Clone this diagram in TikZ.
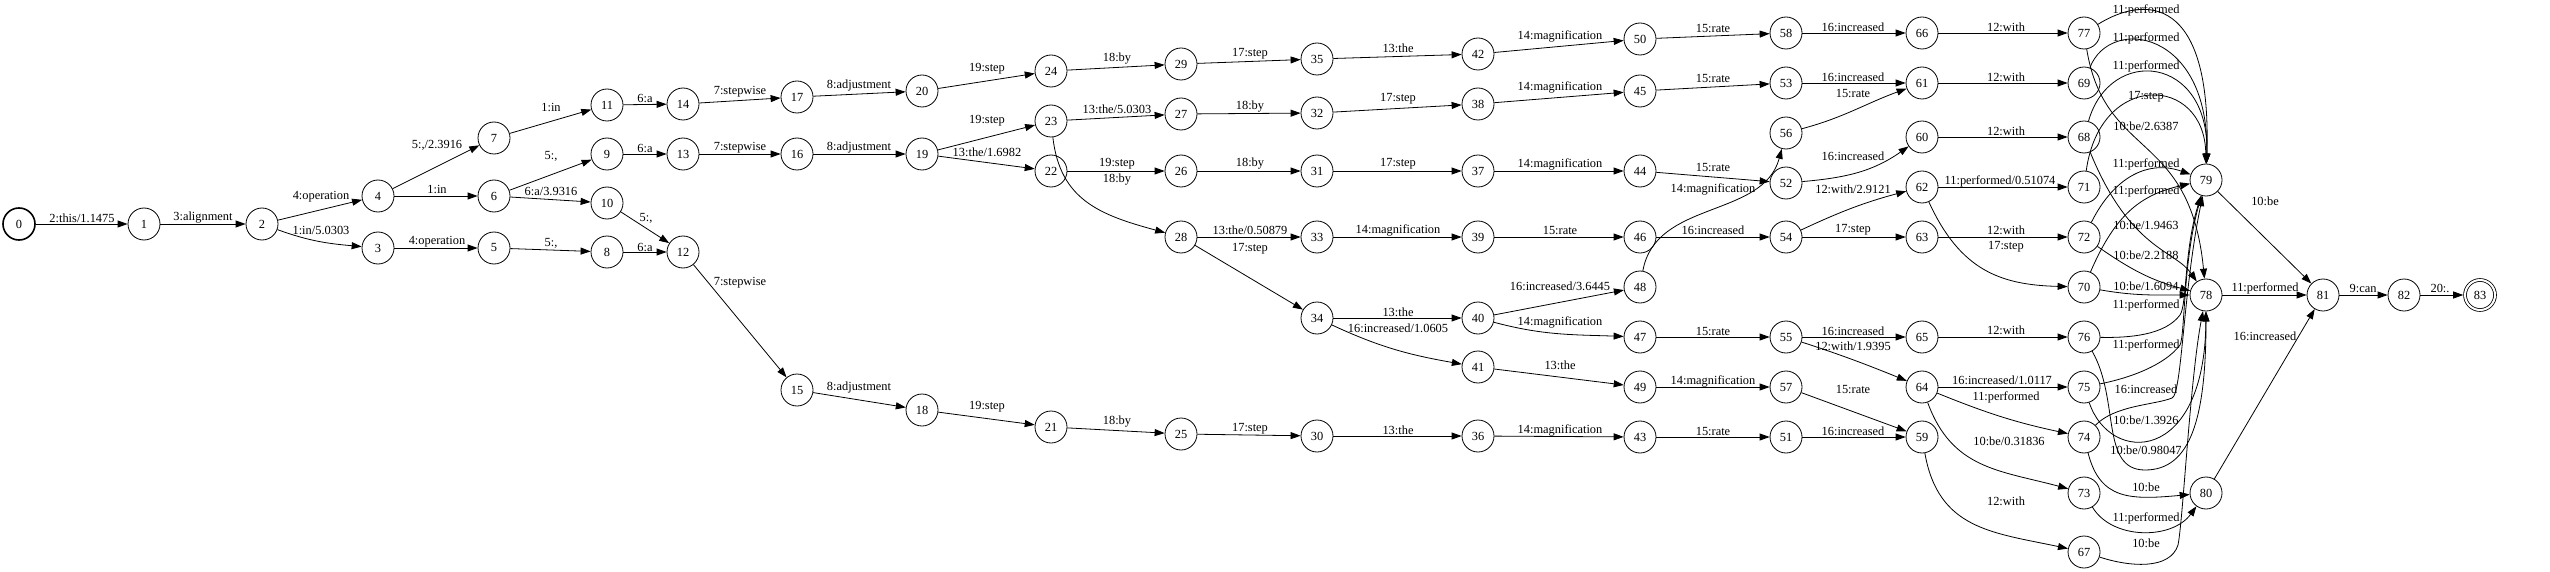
\documentclass[tikz,border=0pt]{standalone}
\usepackage{fontspec}
\setmainfont{Liberation Serif}
\usetikzlibrary{arrows.meta}

\tikzset{
  stnode/.style={circle, draw, line width=0.8pt, minimum size=32pt, inner sep=0pt, font=\fontsize{12.4}{14}\selectfont},
  trans/.style={-{Triangle[length=10pt,width=7pt]}, line width=0.8pt},
  lbl/.style={font=\fontsize{12.4}{14}\selectfont, inner sep=0pt},
}

\begin{document}
\begin{tikzpicture}[x=1pt, y=1pt]
\useasboundingbox (0,0) rectangle (2550,-572);
% states
\node[stnode, line width=1.6pt] (n0) at (19,-224) {0};
\node[stnode] (n1) at (144,-224) {1};
\node[stnode] (n2) at (262,-224) {2};
\node[stnode] (n3) at (378,-248) {3};
\node[stnode] (n4) at (378,-196) {4};
\node[stnode] (n5) at (494,-248) {5};
\node[stnode] (n6) at (494,-196) {6};
\node[stnode] (n7) at (494,-138) {7};
\node[stnode] (n8) at (607,-252) {8};
\node[stnode] (n9) at (607,-154) {9};
\node[stnode] (n10) at (607,-203) {10};
\node[stnode] (n11) at (607,-105) {11};
\node[stnode] (n12) at (683,-252) {12};
\node[stnode] (n13) at (683,-154) {13};
\node[stnode] (n14) at (683,-104) {14};
\node[stnode] (n15) at (797,-390) {15};
\node[stnode] (n16) at (797,-154) {16};
\node[stnode] (n17) at (797,-97) {17};
\node[stnode] (n18) at (922,-410) {18};
\node[stnode] (n19) at (922,-154) {19};
\node[stnode] (n20) at (922,-91) {20};
\node[stnode] (n21) at (1051,-427) {21};
\node[stnode] (n22) at (1051,-171) {22};
\node[stnode] (n23) at (1051,-121) {23};
\node[stnode] (n24) at (1051,-71) {24};
\node[stnode] (n25) at (1181,-434) {25};
\node[stnode] (n26) at (1181,-171) {26};
\node[stnode] (n27) at (1181,-114) {27};
\node[stnode] (n28) at (1181,-237) {28};
\node[stnode] (n29) at (1181,-64) {29};
\node[stnode] (n30) at (1317,-436) {30};
\node[stnode] (n31) at (1317,-171) {31};
\node[stnode] (n32) at (1317,-113) {32};
\node[stnode] (n33) at (1317,-237) {33};
\node[stnode] (n34) at (1317,-318) {34};
\node[stnode] (n35) at (1317,-59) {35};
\node[stnode] (n36) at (1478,-436) {36};
\node[stnode] (n37) at (1478,-171) {37};
\node[stnode] (n38) at (1478,-104) {38};
\node[stnode] (n39) at (1478,-237) {39};
\node[stnode] (n40) at (1478,-318) {40};
\node[stnode] (n41) at (1478,-367) {41};
\node[stnode] (n42) at (1478,-54) {42};
\node[stnode] (n43) at (1640,-437) {43};
\node[stnode] (n44) at (1640,-171) {44};
\node[stnode] (n45) at (1640,-91) {45};
\node[stnode] (n46) at (1640,-237) {46};
\node[stnode] (n47) at (1640,-337) {47};
\node[stnode] (n48) at (1640,-287) {48};
\node[stnode] (n49) at (1640,-387) {49};
\node[stnode] (n50) at (1640,-39) {50};
\node[stnode] (n51) at (1786,-437) {51};
\node[stnode] (n52) at (1786,-183) {52};
\node[stnode] (n53) at (1786,-83) {53};
\node[stnode] (n54) at (1786,-237) {54};
\node[stnode] (n55) at (1786,-337) {55};
\node[stnode] (n56) at (1786,-133) {56};
\node[stnode] (n57) at (1786,-387) {57};
\node[stnode] (n58) at (1786,-33) {58};
\node[stnode] (n59) at (1922,-437) {59};
\node[stnode] (n60) at (1922,-137) {60};
\node[stnode] (n61) at (1922,-83) {61};
\node[stnode] (n62) at (1922,-187) {62};
\node[stnode] (n63) at (1922,-237) {63};
\node[stnode] (n64) at (1922,-387) {64};
\node[stnode] (n65) at (1922,-337) {65};
\node[stnode] (n66) at (1922,-33) {66};
\node[stnode] (n67) at (2084,-552) {67};
\node[stnode] (n68) at (2084,-137) {68};
\node[stnode] (n69) at (2084,-83) {69};
\node[stnode] (n70) at (2084,-287) {70};
\node[stnode] (n71) at (2084,-187) {71};
\node[stnode] (n72) at (2084,-237) {72};
\node[stnode] (n73) at (2084,-493) {73};
\node[stnode] (n74) at (2084,-437) {74};
\node[stnode] (n75) at (2084,-387) {75};
\node[stnode] (n76) at (2084,-337) {76};
\node[stnode] (n77) at (2084,-33) {77};
\node[stnode] (n78) at (2206,-295) {78};
\node[stnode] (n79) at (2206,-180) {79};
\node[stnode] (n80) at (2206,-493) {80};
\node[stnode] (n81) at (2323,-295) {81};
\node[stnode] (n82) at (2404,-295) {82};
\node[stnode, double, double distance=2pt, minimum size=30pt, outer sep=1.8pt] (n83) at (2480,-295) {83};
% transitions
\draw[trans] (n0) -- (n1) node[lbl] at (82,-218) {2:this/1.1475};
\draw[trans] (n1) -- (n2) node[lbl] at (203,-218) {3:alignment};
\draw[trans] (n2) -- (n4) node[lbl] at (321,-197) {4:operation};
\draw[trans] (n2) to[out=-20,in=175] (n3) node[lbl] at (321,-230) {1:in/5.0303};
\draw[trans] (n4) -- (n7) node[lbl] at (437,-145) {5:,/2.3916};
\draw[trans] (n4) -- (n6) node[lbl] at (437,-189) {1:in};
\draw[trans] (n3) -- (n5) node[lbl] at (437,-242) {4:operation};
\draw[trans] (n7) -- (n11) node[lbl] at (551,-107) {1:in};
\draw[trans] (n6) -- (n9) node[lbl] at (551,-156) {5:,};
\draw[trans] (n6) -- (n10) node[lbl] at (551,-191) {6:a/3.9316};
\draw[trans] (n5) -- (n8) node[lbl] at (551,-243) {5:,};
\draw[trans] (n11) -- (n14) node[lbl] at (645,-98) {6:a};
\draw[trans] (n9) -- (n13) node[lbl] at (645,-148) {6:a};
\draw[trans] (n10) -- (n12) node[lbl] at (646,-218) {5:,};
\draw[trans] (n8) -- (n12) node[lbl] at (645,-247) {6:a};
\draw[trans] (n14) -- (n17) node[lbl] at (740,-92) {7:stepwise};
\draw[trans] (n13) -- (n16) node[lbl] at (740,-148) {7:stepwise};
\draw[trans] (n12) -- (n15) node[lbl] at (740,-283) {7:stepwise};
\draw[trans] (n17) -- (n20) node[lbl] at (859,-86) {8:adjustment};
\draw[trans] (n16) -- (n19) node[lbl] at (859,-148) {8:adjustment};
\draw[trans] (n15) -- (n18) node[lbl] at (859,-388) {8:adjustment};
\draw[trans] (n20) -- (n24) node[lbl] at (987,-69) {19:step};
\draw[trans] (n19) -- (n23) node[lbl] at (987,-121) {19:step};
\draw[trans] (n19) -- (n22) node[lbl] at (987,-152) {13:the/1.6982};
\draw[trans] (n18) -- (n21) node[lbl] at (987,-407) {19:step};
\draw[trans] (n24) -- (n29) node[lbl] at (1117,-59) {18:by};
\draw[trans] (n23) -- (n27) node[lbl] at (1117,-109) {13:the/5.0303};
\draw[trans] (n22) -- (n26) node[lbl] at (1117,-164) {19:step};
\draw[trans] (n23) .. controls (1060,-200) and (1100,-215) .. (n28) node[lbl] at (1117,-180) {18:by};
\draw[trans] (n21) -- (n25) node[lbl] at (1117,-422) {18:by};
\draw[trans] (n29) -- (n35) node[lbl] at (1250,-54) {17:step};
\draw[trans] (n27) -- (n32) node[lbl] at (1250,-107) {18:by};
\draw[trans] (n26) -- (n31) node[lbl] at (1250,-164) {18:by};
\draw[trans] (n28) -- (n33) node[lbl] at (1250,-230) {13:the/0.50879};
\draw[trans] (n28) -- (n34) node[lbl] at (1250,-249) {17:step};
\draw[trans] (n25) -- (n30) node[lbl] at (1250,-429) {17:step};
\draw[trans] (n35) -- (n42) node[lbl] at (1398,-48) {13:the};
\draw[trans] (n32) -- (n38) node[lbl] at (1398,-99) {17:step};
\draw[trans] (n31) -- (n37) node[lbl] at (1398,-164) {17:step};
\draw[trans] (n33) -- (n39) node[lbl] at (1398,-230) {14:magnification};
\draw[trans] (n34) -- (n40) node[lbl] at (1398,-312) {13:the};
\draw[trans] (n34) to[out=-25,in=170] (n41) node[lbl] at (1398,-328) {16:increased/1.0605};
\draw[trans] (n30) -- (n36) node[lbl] at (1398,-430) {13:the};
\draw[trans] (n42) -- (n50) node[lbl] at (1560,-36) {14:magnification};
\draw[trans] (n38) -- (n45) node[lbl] at (1560,-87) {14:magnification};
\draw[trans] (n37) -- (n44) node[lbl] at (1560,-164) {14:magnification};
\draw[trans] (n39) -- (n46) node[lbl] at (1560,-230) {15:rate};
\draw[trans] (n40) -- (n48) node[lbl] at (1560,-286) {16:increased/3.6445};
\draw[trans] (n40) to[out=-15,in=178] (n47) node[lbl] at (1560,-322) {14:magnification};
\draw[trans] (n41) -- (n49) node[lbl] at (1560,-365) {13:the};
\draw[trans] (n36) -- (n43) node[lbl] at (1560,-430) {14:magnification};
\draw[trans] (n50) -- (n58) node[lbl] at (1713,-28) {15:rate};
\draw[trans] (n45) -- (n53) node[lbl] at (1713,-78) {15:rate};
\draw[trans] (n44) -- (n52) node[lbl] at (1713,-167) {15:rate};
\draw[trans] (n48) to[out=80,in=-105] (n56) node[lbl] at (1713,-189) {14:magnification};
\draw[trans] (n46) -- (n54) node[lbl] at (1713,-230) {16:increased};
\draw[trans] (n47) -- (n55) node[lbl] at (1713,-331) {15:rate};
\draw[trans] (n49) -- (n57) node[lbl] at (1713,-381) {14:magnification};
\draw[trans] (n43) -- (n51) node[lbl] at (1713,-431) {15:rate};
\draw[trans] (n58) -- (n66) node[lbl] at (1853,-27) {16:increased};
\draw[trans] (n53) -- (n61) node[lbl] at (1853,-77) {16:increased};
\draw[trans] (n56) to[out=15,in=200] (n61) node[lbl] at (1853,-93) {15:rate};
\draw[trans] (n52) to[out=5,in=215] (n60) node[lbl] at (1853,-156) {16:increased};
\draw[trans] (n54) to[out=25,in=195] (n62) node[lbl] at (1853,-189) {12:with/2.9121};
\draw[trans] (n54) -- (n63) node[lbl] at (1853,-230) {17:step};
\draw[trans] (n55) -- (n65) node[lbl] at (1853,-331) {16:increased};
\draw[trans] (n55) to[out=-18,in=158] (n64) node[lbl] at (1853,-346) {12:with/1.9395};
\draw[trans] (n57) -- (n59) node[lbl] at (1853,-389) {15:rate};
\draw[trans] (n51) -- (n59) node[lbl] at (1853,-431) {16:increased};
\draw[trans] (n66) -- (n77) node[lbl] at (2006,-27) {12:with};
\draw[trans] (n61) -- (n69) node[lbl] at (2006,-77) {12:with};
\draw[trans] (n60) -- (n68) node[lbl] at (2006,-131) {12:with};
\draw[trans] (n62) -- (n71) node[lbl] at (2000,-181) {11:performed/0.51074};
\draw[trans] (n63) -- (n72) node[lbl] at (2006,-230) {12:with};
\draw[trans] (n62) .. controls (1960,-270) and (2000,-285) .. (n70) node[lbl] at (2006,-247) {17:step};
\draw[trans] (n65) -- (n76) node[lbl] at (2006,-330) {12:with};
\draw[trans] (n64) -- (n75) node[lbl] at (2002,-380) {16:increased/1.0117};
\draw[trans] (n64) to[out=-22,in=168] (n74) node[lbl] at (2006,-397) {11:performed};
\draw[trans] (n64) to[out=-70,in=165,looseness=1.1] (n73) node[lbl] at (2009,-441) {10:be/0.31836};
\draw[trans] (n59) to[out=-80,in=168,looseness=1.15] (n67) node[lbl] at (2006,-501) {12:with};
\draw[trans] (n77) .. controls (2145,5) and (2212,5) .. (n79) node[lbl] at (2146,-10) {11:performed};
\draw[trans] (n69) .. controls (2110,-15) and (2210,-30) .. (n79) node[lbl] at (2146,-38) {11:performed};
\draw[trans] (n68) .. controls (2110,-45) and (2210,-55) .. (n79) node[lbl] at (2146,-66) {11:performed};
\draw[trans] (n71) .. controls (2100,-70) and (2205,-75) .. (n79) node[lbl] at (2146,-97) {17:step};
\draw[trans] (n77) .. controls (2105,-160) and (2190,-130) .. (n78) node[lbl] at (2146,-126) {10:be/2.6387};
\draw[trans] (n72) .. controls (2115,-175) and (2150,-160) .. (n79) node[lbl] at (2146,-164) {11:performed};
\draw[trans] (n70) .. controls (2115,-215) and (2140,-195) .. (n79) node[lbl] at (2146,-191) {11:performed};
\draw[trans] (n68) .. controls (2130,-250) and (2175,-250) .. (n78) node[lbl] at (2146,-225) {10:be/1.9463};
\draw[trans] (n72) to[out=-35,in=165] (n78) node[lbl] at (2146,-255) {10:be/2.2188};
\draw[trans] (n70) to[out=-10,in=180] (n78) node[lbl] at (2146,-286) {10:be/1.6094};
\draw[trans] (n76) .. controls (2130,-338) and (2165,-335) .. (2180,-315) .. controls (2187,-305) and (2184,-250) .. (n79) node[lbl] at (2146,-305) {11:performed};
\draw[trans] (n75) .. controls (2130,-378) and (2165,-365) .. (2180,-345) .. controls (2185,-335) and (2183,-260) .. (n79) node[lbl] at (2146,-345) {11:performed};
\draw[trans] (n74) .. controls (2115,-405) and (2155,-405) .. (2172,-398) .. controls (2182,-394) and (2183,-290) .. (n79) node[lbl] at (2146,-389) {16:increased};
\draw[trans] (n75) .. controls (2110,-465) and (2205,-465) .. (n78) node[lbl] at (2146,-420) {10:be/1.3926};
\draw[trans] (n76) .. controls (2120,-400) and (2100,-470) .. (2145,-470) .. controls (2190,-470) and (2206,-420) .. (n78) node[lbl] at (2146,-450) {10:be/0.98047};
\draw[trans] (n74) .. controls (2100,-500) and (2130,-500) .. (n80) node[lbl] at (2146,-487) {10:be};
\draw[trans] (n73) .. controls (2112,-540) and (2172,-540) .. (n80) node[lbl] at (2146,-518) {11:performed};
\draw[trans] (n67) .. controls (2130,-567) and (2170,-570) .. (2178,-545) .. controls (2183,-520) and (2190,-380) .. (n78) node[lbl] at (2146,-543) {10:be};
\draw[trans] (n79) -- (n81) node[lbl] at (2265,-201) {10:be};
\draw[trans] (n78) -- (n81) node[lbl] at (2265,-288) {11:performed};
\draw[trans] (n80) -- (n81) node[lbl] at (2265,-336) {16:increased};
\draw[trans] (n81) -- (n82) node[lbl] at (2363,-288) {9:can};
\draw[trans] (n82) -- (n83) node[lbl] at (2440,-288) {20:.};
\end{tikzpicture}
\end{document}
